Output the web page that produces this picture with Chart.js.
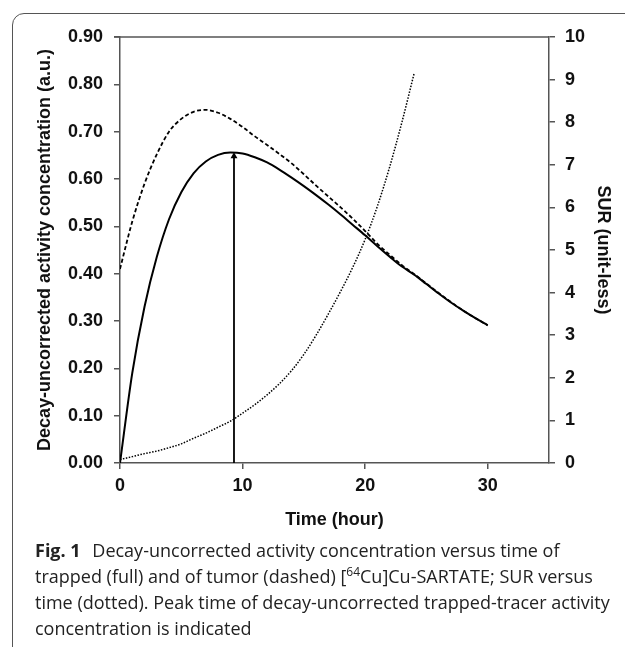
<!DOCTYPE html>
<html>
<head>
<meta charset="utf-8">
<script src="https://cdn.jsdelivr.net/npm/chart.js@4.4.1/dist/chart.umd.min.js"></script>
<style>
  html, body { margin: 0; padding: 0; background: #fff; overflow: hidden; }
  body { width: 625px; height: 647px; position: relative; }
  #frame {
    position: absolute; left: 12px; top: 13px; width: 700px; height: 700px;
    border: 1.5px solid #555; border-radius: 12px; box-sizing: border-box;
  }
  #wrap { position: absolute; left: 0; top: 0; width: 625px; height: 540px; }
  #caption {
    position: absolute; left: 35px; top: 537px;
    font-family: "Open Sans", "Noto Sans", sans-serif; font-size: 18px;
    line-height: 26px; color: #222; white-space: nowrap;
  }
  #caption b { font-weight: 700; margin-right: 7px; }
  #caption sup { font-size: 12px; line-height: 0; }
</style>
</head>
<body>
<div id="frame"></div>
<div id="wrap"><canvas id="chart" width="625" height="540"></canvas></div>
<div id="caption">
  <b>Fig. 1</b> Decay-uncorrected activity concentration versus time of<br>
  trapped (full) and of tumor (dashed) [<sup>64</sup>Cu]Cu-SARTATE; SUR versus<br>
  time (dotted). Peak time of decay-uncorrected trapped-tracer activity<br>
  concentration is indicated
</div>
<script>
/* data */
const hours = [0, 1, 2, 3, 4, 5, 6, 7, 8, 9, 10, 11, 12, 13, 14, 15, 16, 17, 18, 19, 20,
  21, 22, 23, 24, 25, 26, 27, 28, 29, 30];
const trapped = [0, 0.19, 0.33, 0.435, 0.515, 0.572, 0.612, 0.637, 0.651, 0.656, 0.654,
  0.646, 0.635, 0.62, 0.603, 0.585, 0.566, 0.546, 0.525, 0.503, 0.481, 0.458, 0.436,
  0.415, 0.398, 0.378, 0.358, 0.339, 0.322, 0.306, 0.291];
const tumor = [0.41, 0.51, 0.59, 0.652, 0.7, 0.727, 0.742, 0.746, 0.74, 0.727, 0.71,
  0.69, 0.672, 0.653, 0.633, 0.61, 0.586, 0.563, 0.54, 0.516, 0.49, 0.463, 0.44,
  0.418, 0.399, 0.379, 0.359, 0.34, 0.322, 0.306, 0.291];
const surHours = [0, 1, 2, 3, 4, 5, 6, 7, 8, 9, 10, 11, 12, 13, 14, 15, 16, 17, 18, 19,
  20, 21, 22, 23, 24];
const sur = [0.08, 0.15, 0.22, 0.28, 0.36, 0.45, 0.58, 0.7, 0.84, 0.98, 1.17, 1.37, 1.6,
  1.86, 2.17, 2.55, 3.0, 3.5, 4.03, 4.6, 5.25, 6.03, 6.95, 8.0, 9.15];
const PEAK_TIME = 9.3;
const PEAK_VALUE = 0.656;
const xTicks = [0, 10, 20, 30];

const toPoints = (xs, ys) => xs.map((x, i) => ({ x: x, y: ys[i] }));

const tickFont = { family: "'Liberation Sans', Arial, sans-serif", size: 18, weight: "bold" };
const axisColor = "#555";

/* top edge of the plot box */
const topLine = {
  id: "topLine",
  afterDraw(chart) {
    const { ctx, chartArea } = chart;
    ctx.save();
    ctx.strokeStyle = axisColor;
    ctx.lineWidth = 1.5;
    ctx.beginPath();
    ctx.moveTo(chartArea.left - 6, chartArea.top);
    ctx.lineTo(chartArea.right, chartArea.top);
    ctx.stroke();
    ctx.restore();
  },
};

new Chart(document.getElementById("chart"), {
  type: "line",
  data: {
    datasets: [
      {
        label: "Trapped",
        data: toPoints(hours, trapped),
        borderColor: "#000",
        borderWidth: 2,
        pointRadius: 0,
        cubicInterpolationMode: "monotone",
        yAxisID: "y",
      },
      {
        label: "Tumor",
        data: toPoints(hours, tumor),
        borderColor: "#000",
        borderWidth: 1.8,
        borderDash: [4, 2.5],
        pointRadius: 0,
        cubicInterpolationMode: "monotone",
        yAxisID: "y",
      },
      {
        label: "SUR",
        data: toPoints(surHours, sur),
        borderColor: "#000",
        borderWidth: 1.5,
        borderDash: [1.5, 1.5],
        pointRadius: 0,
        cubicInterpolationMode: "monotone",
        yAxisID: "y2",
      },
      {
        label: "Peak",
        data: [{ x: PEAK_TIME, y: 0 }, { x: PEAK_TIME, y: PEAK_VALUE - 0.008 }],
        borderColor: "#000",
        borderWidth: 1.8,
        pointStyle: "triangle",
        pointRadius: [0, 4],
        pointBackgroundColor: "#000",
        pointBorderColor: "#000",
        pointBorderWidth: 0,
        yAxisID: "y",
      },
    ],
  },
  options: {
    responsive: false,
    animation: false,
    layout: { padding: { top: 37, left: 0, right: 0, bottom: 0 } },
    plugins: { legend: { display: false }, tooltip: { enabled: false } },
    scales: {
      x: {
        type: "linear",
        min: 0,
        max: 35,
        afterBuildTicks: (axis) => {
          axis.ticks = xTicks.map((v) => ({ value: v }));
        },
        afterFit: (scale) => {
          scale.height = 77;
        },
        ticks: { font: tickFont, color: "#111", padding: 6, maxRotation: 0 },
        grid: { drawOnChartArea: false, tickLength: 6, color: axisColor, lineWidth: 1.5 },
        border: { color: axisColor, width: 1.5 },
        title: {
          display: true,
          text: "Time (hour)",
          font: tickFont,
          color: "#111",
          padding: { top: 0, bottom: 9 },
        },
      },
      y: {
        position: "left",
        min: 0,
        max: 0.9,
        afterFit: (scale) => {
          scale.width = 120;
        },
        ticks: {
          stepSize: 0.1,
          font: tickFont,
          color: "#111",
          padding: 11,
          callback: (v) => v.toFixed(2),
        },
        grid: { drawOnChartArea: false, tickLength: 6, color: axisColor, lineWidth: 1.5 },
        border: { color: axisColor, width: 1.5 },
        title: {
          display: true,
          text: "Decay-uncorrected activity concentration (a.u.)",
          font: tickFont,
          color: "#111",
          padding: { top: 34, bottom: 0 },
        },
      },
      y2: {
        position: "right",
        min: 0,
        max: 10,
        afterFit: (scale) => {
          scale.width = 76;
        },
        ticks: { stepSize: 1, font: tickFont, color: "#111", padding: 10 },
        grid: { drawOnChartArea: false, tickLength: 6, color: axisColor, lineWidth: 1.5 },
        border: { color: axisColor, width: 1.5 },
        title: {
          display: true,
          text: "SUR (unit-less)",
          font: tickFont,
          color: "#111",
          padding: { top: 11, bottom: 0 },
        },
      },
    },
  },
  plugins: [topLine],
});
</script>
</body>
</html>
